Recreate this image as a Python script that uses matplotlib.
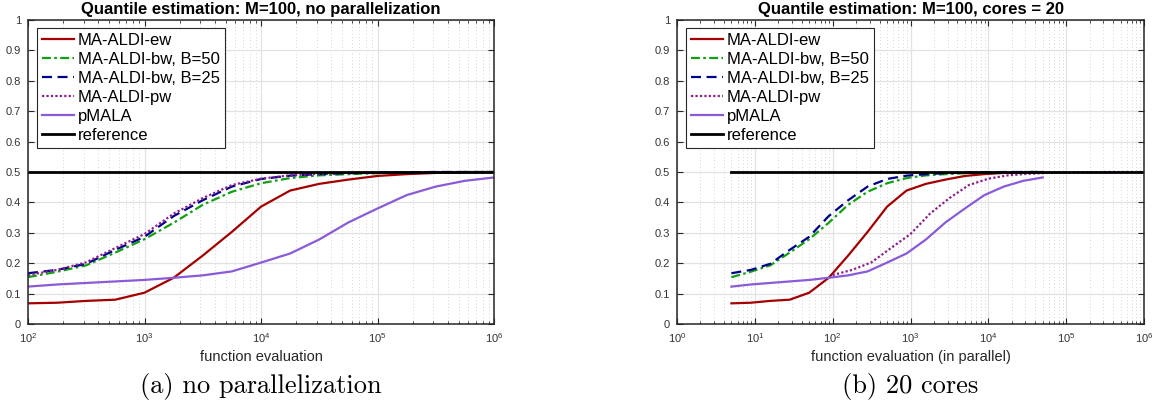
import numpy as np
import matplotlib
matplotlib.use('Agg')
import matplotlib.pyplot as plt
from matplotlib.ticker import LogLocator, FuncFormatter, NullFormatter

plt.rcParams['font.family'] = ['Liberation Sans', 'DejaVu Sans']

# function evaluations (serial)
evals = [1e2, 1.78e2, 3.16e2, 5.62e2, 1e3, 1.78e3, 3.16e3, 5.62e3, 1e4,
         1.78e4, 3.16e4, 5.62e4, 1e5, 1.78e5, 3.16e5, 5.62e5, 1e6]
cores = 20

ew = [0.068, 0.070, 0.076, 0.080, 0.103, 0.152, 0.225, 0.303, 0.386,
      0.439, 0.461, 0.475, 0.487, 0.493, 0.497, 0.499, 0.500]
bw50 = [0.154, 0.172, 0.193, 0.235, 0.279, 0.333, 0.392, 0.435, 0.463,
        0.480, 0.489, 0.493, 0.496, 0.498, 0.499, 0.500, 0.500]
bw25 = [0.167, 0.178, 0.198, 0.244, 0.287, 0.355, 0.407, 0.452, 0.477,
        0.488, 0.493, 0.496, 0.498, 0.499, 0.500, 0.500, 0.500]
pw = [0.161, 0.178, 0.203, 0.250, 0.296, 0.363, 0.414, 0.457, 0.478,
      0.489, 0.494, 0.497, 0.498, 0.499, 0.500, 0.500, 0.500]
pmala = [0.123, 0.130, 0.135, 0.140, 0.145, 0.152, 0.160, 0.173, 0.202,
         0.232, 0.278, 0.334, 0.380, 0.424, 0.452, 0.471, 0.482]
ref_value = 0.5

labels = ['MA-ALDI-ew', 'MA-ALDI-bw, B=50', 'MA-ALDI-bw, B=25',
          'MA-ALDI-pw', 'pMALA', 'reference']
titles = ['Quantile estimation: M=100, no parallelization',
          'Quantile estimation: M=100, cores = 20']
xlabels = ['function evaluation', 'function evaluation (in parallel)']
captions = ['(a) no parallelization', '(b) 20 cores']

c_ew = '#a40000'
c_bw50 = '#12a012'
c_bw25 = '#00008e'
c_pw = '#8e1e8e'
c_pmala = '#8a5ad8'

fig = plt.figure(figsize=(11.56, 4.17), dpi=100)
W, H = 1156, 417
ax1 = fig.add_axes([28 / W, (H - 324) / H, 466 / W, 304 / H])
ax2 = fig.add_axes([677 / W, (H - 324) / H, 467 / W, 304 / H])

x = np.array(evals)
xp = x / cores

def draw(ax, xs, xpw, xref):
    ax.plot(xs, ew, color=c_ew, lw=1.6, label=labels[0])
    ax.plot(xs, bw50, color=c_bw50, lw=1.6, ls=(0, (4, 1.5, 1.2, 1.5)), label=labels[1])
    ax.plot(xs, bw25, color=c_bw25, lw=1.6, ls=(0, (4.5, 2.5)), label=labels[2])
    ax.plot(xpw, pw, color=c_pw, lw=1.6, ls=(0, (1, 1)), label=labels[3])
    ax.plot(xs, pmala, color=c_pmala, lw=1.6, label=labels[4])
    ax.plot(xref, [ref_value, ref_value], color='black', lw=2, label=labels[5])

# MA-ALDI-pw gains nothing from the cores, it keeps its serial cost
draw(ax1, x, x, [x[0], 1e6])
draw(ax2, xp, x, [xp[0], 1e6])

for ax, xlo, t, xl in [(ax1, 1e2, titles[0], xlabels[0]), (ax2, 1e0, titles[1], xlabels[1])]:
    ax.set_xscale('log')
    ax.set_xlim(xlo, 1e6)
    ax.set_ylim(0, 1)
    ax.set_yticks(np.arange(0, 1.01, 0.1))
    ax.yaxis.set_major_formatter(FuncFormatter(lambda v, _: f'{v:g}'))
    ax.xaxis.set_major_locator(LogLocator(base=10, numticks=10))
    ax.xaxis.set_minor_locator(LogLocator(base=10, subs=np.arange(2, 10), numticks=20))
    ax.xaxis.set_minor_formatter(NullFormatter())
    ax.grid(True, which='major', color='#e2e2e2', lw=0.9)
    ax.grid(True, which='minor', axis='x', color='#c8c8c8', lw=0.6, ls=(0, (1, 3)))
    ax.set_axisbelow(True)
    ax.tick_params(which='both', direction='in', top=True, right=True,
                   labelsize=8, labelcolor='#333333', color='#262626')
    ax.tick_params(which='major', length=4, width=0.8)
    ax.tick_params(axis='x', which='major', pad=5)
    ax.tick_params(axis='y', which='major', pad=5)
    ax.tick_params(which='minor', length=2, width=0.6)
    for s in ax.spines.values():
        s.set_color('#262626')
        s.set_linewidth(1.1)
    ax.set_title(t, fontsize=12, fontweight='bold', pad=4)
    ax.set_xlabel(xl, fontsize=10.5, color='#262626', labelpad=4)
    leg = ax.legend(loc='upper left', bbox_to_anchor=(0.019, 0.974), fontsize=12,
                    frameon=True, fancybox=False, edgecolor='#262626',
                    framealpha=1, borderpad=0.3, labelspacing=0.24,
                    handlelength=1.9, handletextpad=0.25, borderaxespad=0)
    leg.get_frame().set_linewidth(0.8)

fig.text(261 / W, 1 - 387 / H, captions[0], family='cmr10', fontsize=19,
         ha='center', va='center')
fig.text(910 / W, 1 - 387 / H, captions[1], family='cmr10', fontsize=19,
         ha='center', va='center')

fig.savefig('out.png', dpi=100)
